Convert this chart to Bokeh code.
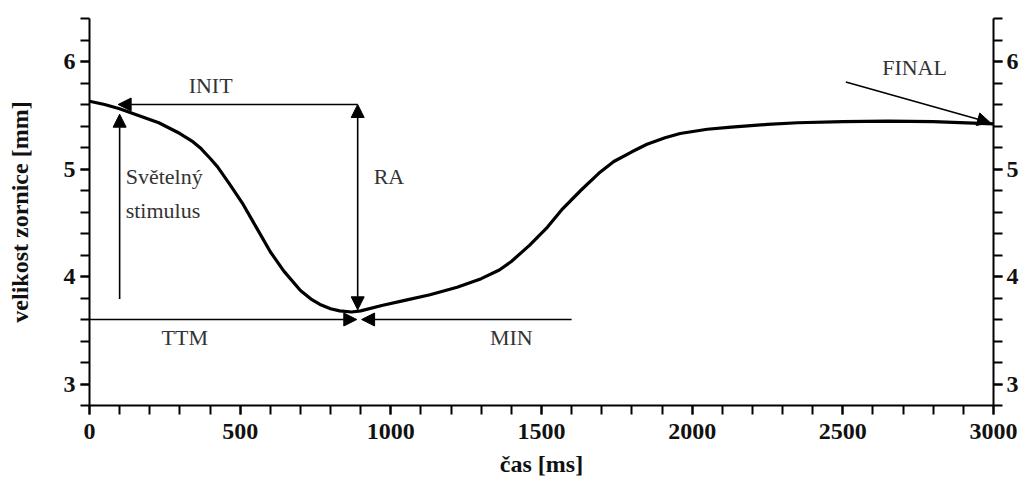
from bokeh.plotting import figure
from bokeh.models import (Arrow, NormalHead, LinearAxis, FixedTicker, Range1d,
                          ColumnDataSource)
from bokeh.core.properties import value
from bokeh.embed import file_html
from bokeh.resources import INLINE
import numpy as np

# ---- data ----
time_ms = [0, 50, 100, 160, 230, 300, 340, 370, 400, 425, 465, 510, 555, 600,
           645, 700, 735, 765, 800, 830, 870, 900, 970, 1050, 1130, 1220, 1300,
           1360, 1400, 1460, 1520, 1570, 1630, 1690, 1740, 1800, 1850, 1910,
           1960, 2050, 2130, 2250, 2350, 2500, 2650, 2800, 3000]
pupil_mm = [5.63, 5.60, 5.56, 5.50, 5.43, 5.33, 5.26, 5.19, 5.10, 5.02, 4.86,
            4.67, 4.45, 4.23, 4.05, 3.87, 3.79, 3.74, 3.70, 3.68, 3.67, 3.68,
            3.73, 3.78, 3.83, 3.90, 3.98, 4.06, 4.14, 4.29, 4.46, 4.63, 4.80,
            4.96, 5.07, 5.16, 5.23, 5.29, 5.33, 5.37, 5.39, 5.415, 5.43, 5.44,
            5.445, 5.44, 5.42]

x_ticks = [0, 500, 1000, 1500, 2000, 2500, 3000]
y_ticks = [3, 4, 5, 6]

# annotation key values
stim_t, stim_y0, stim_y1 = 100, 3.79, 5.51
init_level = 5.60
ra_t, ra_bottom = 890, 3.69
min_level, min_line_end = 3.60, 1600
min_left_tip, min_right_tip = 887, 903
final_from = (2510, 5.81)
final_to = (2990, 5.43)

label_text = ["INIT", "Světelný", "stimulus", "RA", "TTM", "MIN", "FINAL"]
label_x = [402, 120, 120, 943, 316, 1400, 2738]
label_y = [5.78, 4.93, 4.61, 4.93, 3.43, 3.43, 5.94]
label_align = ["center", "left", "left", "left", "center", "center", "center"]

SERIF = "Liberation Serif"

p = figure(width=1027, height=492, x_range=Range1d(0, 3000),
           y_range=Range1d(2.8, 6.4), output_backend="svg",
           toolbar_location=None, min_border_left=89, min_border_right=34,
           min_border_top=18, min_border_bottom=87)
p.xgrid.visible = False
p.ygrid.visible = False
p.outline_line_color = None
p.background_fill_color = "white"
p.border_fill_color = "white"


def style_axis(ax):
    ax.axis_line_width = 2
    ax.axis_line_color = "black"
    ax.major_tick_line_width = 2
    ax.minor_tick_line_width = 2
    ax.major_tick_line_color = "black"
    ax.minor_tick_line_color = "black"
    ax.major_tick_out = 9
    ax.major_tick_in = 0
    ax.minor_tick_out = 9
    ax.minor_tick_in = 0
    ax.major_label_text_font = SERIF
    ax.major_label_text_font_style = "bold"
    ax.major_label_text_font_size = "24px"
    ax.major_label_text_color = "#111"
    ax.axis_label_text_font = SERIF
    ax.axis_label_text_font_style = "bold"
    ax.axis_label_text_font_size = "24px"
    ax.axis_label_text_color = "#111"


xt = FixedTicker(ticks=x_ticks, minor_ticks=list(range(0, 3001, 100)))
yt = FixedTicker(ticks=y_ticks, minor_ticks=[round(v, 1) for v in np.arange(2.8, 6.41, 0.2)])

p.xaxis.ticker = xt
p.yaxis.ticker = yt
p.xaxis.axis_label = "čas [ms]"
p.yaxis.axis_label = "velikost zornice [mm]"
for ax in p.xaxis + p.yaxis:
    style_axis(ax)
p.xaxis.major_label_standoff = 9
p.xaxis.axis_label_standoff = 9
p.yaxis.major_label_standoff = 5
p.yaxis.axis_label_standoff = 28

right = LinearAxis(ticker=yt)
style_axis(right)
right.major_label_standoff = 4
p.add_layout(right, "right")

# curve
p.line(time_ms, pupil_mm, line_width=3.2, line_color="black", line_join="round")


def arrow(x0, y0, x1, y1, both=False, size=13):
    head = NormalHead(size=size, fill_color="black", line_color="black", line_width=1)
    kw = dict(end=head, x_start=x0, y_start=y0, x_end=x1, y_end=y1,
              line_width=1.6, line_color="black")
    if both:
        kw["start"] = NormalHead(size=size, fill_color="black", line_color="black", line_width=1)
    else:
        kw["start"] = None
    p.add_layout(Arrow(**kw))


# stimulus arrow
arrow(stim_t, stim_y0, stim_t, stim_y1)
# INIT
arrow(ra_t, init_level, stim_t - 5, init_level)
# RA double arrow
arrow(ra_t, init_level, ra_t, ra_bottom, both=True)
# TTM / MIN horizontal line with bow-tie heads
arrow(0, min_level, min_left_tip, min_level)
arrow(min_line_end, min_level, min_right_tip, min_level)
# FINAL
arrow(final_from[0], final_from[1], final_to[0], final_to[1])

src = ColumnDataSource(dict(x=label_x, y=label_y, text=label_text, align=label_align))
p.text(x="x", y="y", text="text", source=src, text_align="align",
       text_baseline="middle", text_font=value(SERIF), text_font_size="22px",
       text_color="#333")

open("out.html", "w").write(file_html(p, INLINE))
